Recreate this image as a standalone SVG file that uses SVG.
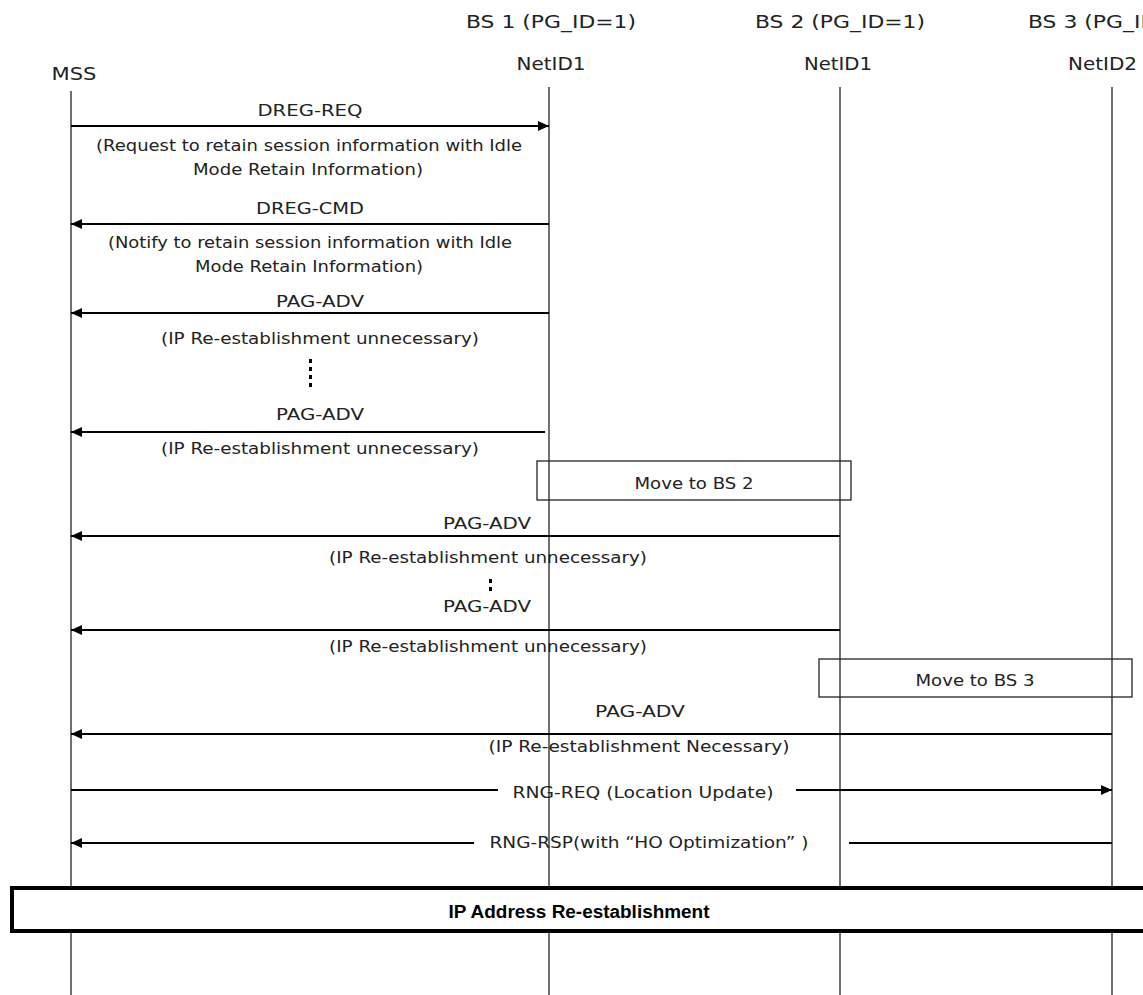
<svg xmlns="http://www.w3.org/2000/svg" width="1143" height="995" viewBox="0 0 1143 995">
<style>
text{font-family:"DejaVu Sans","Liberation Sans",sans-serif;font-size:16px;fill:#222;text-anchor:middle}
.hd{font-size:18px}
.life{stroke:#222;stroke-width:1.3;fill:none}
.msg{stroke:#000;stroke-width:2;fill:none}
.box{stroke:#222;stroke-width:1.3;fill:none}
.big{stroke:#000;stroke-width:4;fill:#fff}
.bt{font-family:"Liberation Sans",Arial,sans-serif;font-size:18px;fill:#000;font-weight:bold}
</style>
<defs>
<marker id="ah" viewBox="0 0 11 10" refX="11" refY="5" markerWidth="11" markerHeight="10" markerUnits="userSpaceOnUse" orient="auto">
<path d="M0,0 L11,5 L0,10 z" fill="#000"/>
</marker>
</defs>
<rect width="1143" height="995" fill="#fff"/>
<g id="lifelines">
<line class="life" x1="71" y1="91" x2="71" y2="995"/>
<line class="life" x1="549" y1="87" x2="549" y2="995"/>
<line class="life" x1="840" y1="87" x2="840" y2="995"/>
<line class="life" x1="1112" y1="87" x2="1112" y2="995"/>
</g>
<g id="node-mss"><text class="hd" x="74" y="80" textLength="45" lengthAdjust="spacingAndGlyphs">MSS</text></g>
<g id="node-bs1"><text class="hd" x="551" y="28" textLength="170" lengthAdjust="spacingAndGlyphs">BS 1 (PG_ID=1)</text><text class="hd" x="551" y="70" textLength="69" lengthAdjust="spacingAndGlyphs">NetID1</text></g>
<g id="node-bs2"><text class="hd" x="840" y="28" textLength="170" lengthAdjust="spacingAndGlyphs">BS 2 (PG_ID=1)</text><text class="hd" x="838" y="70" textLength="68" lengthAdjust="spacingAndGlyphs">NetID1</text></g>
<g id="node-bs3"><text class="hd" x="1028" y="28" textLength="170" lengthAdjust="spacingAndGlyphs" style="text-anchor:start">BS 3 (PG_ID=2)</text><text class="hd" x="1068" y="70" textLength="69" lengthAdjust="spacingAndGlyphs" style="text-anchor:start">NetID2</text></g>
<g id="connectors">
<line class="msg" x1="71" y1="126" x2="549" y2="126" marker-end="url(#ah)"/>
<line class="msg" x1="549" y1="224" x2="71" y2="224" marker-end="url(#ah)"/>
<line class="msg" x1="549" y1="313" x2="71" y2="313" marker-end="url(#ah)"/>
<line class="msg" x1="545" y1="432" x2="71" y2="432" marker-end="url(#ah)"/>
<line class="msg" x1="840" y1="536" x2="71" y2="536" marker-end="url(#ah)"/>
<line class="msg" x1="840" y1="630" x2="71" y2="630" marker-end="url(#ah)"/>
<line class="msg" x1="1112" y1="734" x2="71" y2="734" marker-end="url(#ah)"/>
<line class="msg" x1="71" y1="790" x2="498" y2="790"/>
<line class="msg" x1="796" y1="790" x2="1112" y2="790" marker-end="url(#ah)"/>
<line class="msg" x1="1112" y1="843" x2="849" y2="843"/>
<line class="msg" x1="474" y1="843" x2="71" y2="843" marker-end="url(#ah)"/>
</g>
<g id="labels">
<text x="310" y="116" textLength="105" lengthAdjust="spacingAndGlyphs">DREG-REQ</text>
<text x="309" y="151" textLength="426" lengthAdjust="spacingAndGlyphs">(Request to retain session information with Idle</text>
<text x="308" y="175" textLength="230" lengthAdjust="spacingAndGlyphs">Mode Retain Information)</text>
<text x="310" y="214" textLength="108" lengthAdjust="spacingAndGlyphs">DREG-CMD</text>
<text x="310" y="248" textLength="404" lengthAdjust="spacingAndGlyphs">(Notify to retain session information with Idle</text>
<text x="309" y="272" textLength="228" lengthAdjust="spacingAndGlyphs">Mode Retain Information)</text>
<text x="320" y="307" textLength="88" lengthAdjust="spacingAndGlyphs">PAG-ADV</text>
<text x="320" y="344" textLength="318" lengthAdjust="spacingAndGlyphs">(IP Re-establishment unnecessary)</text>
<text x="320" y="420" textLength="88" lengthAdjust="spacingAndGlyphs">PAG-ADV</text>
<text x="320" y="454" textLength="318" lengthAdjust="spacingAndGlyphs">(IP Re-establishment unnecessary)</text>
<text x="487" y="529" textLength="88" lengthAdjust="spacingAndGlyphs">PAG-ADV</text>
<text x="488" y="563" textLength="318" lengthAdjust="spacingAndGlyphs">(IP Re-establishment unnecessary)</text>
<text x="487" y="612" textLength="88" lengthAdjust="spacingAndGlyphs">PAG-ADV</text>
<text x="488" y="652" textLength="318" lengthAdjust="spacingAndGlyphs">(IP Re-establishment unnecessary)</text>
<text x="640" y="717" textLength="90" lengthAdjust="spacingAndGlyphs">PAG-ADV</text>
<text x="639" y="752" textLength="301" lengthAdjust="spacingAndGlyphs">(IP Re-establishment Necessary)</text>
<text x="643" y="798" textLength="261" lengthAdjust="spacingAndGlyphs">RNG-REQ (Location Update)</text>
<text x="649" y="848" textLength="319" lengthAdjust="spacingAndGlyphs">RNG-RSP(with “HO Optimization” )</text>
</g>
<g id="dots1" fill="#000">
<rect x="309" y="359" width="3" height="4"/>
<rect x="309" y="367" width="3" height="4"/>
<rect x="309" y="375" width="3" height="4"/>
<rect x="309" y="383" width="3" height="4"/>
</g>
<g id="dots2" fill="#000">
<rect x="489" y="579" width="3" height="4"/>
<rect x="489" y="587" width="3" height="4"/>
</g>
<g id="move-bs2">
<rect class="box" x="537" y="461" width="314" height="39"/>
<text x="694" y="489" textLength="119" lengthAdjust="spacingAndGlyphs">Move to BS 2</text>
</g>
<g id="move-bs3">
<rect class="box" x="819" y="659" width="313" height="38"/>
<text x="975" y="686" textLength="119" lengthAdjust="spacingAndGlyphs">Move to BS 3</text>
</g>
<g id="ip-reest">
<rect class="big" x="12" y="888" width="1140" height="43"/>
<text class="bt" x="579" y="918" textLength="261" lengthAdjust="spacingAndGlyphs">IP Address Re-establishment</text>
</g>
</svg>
